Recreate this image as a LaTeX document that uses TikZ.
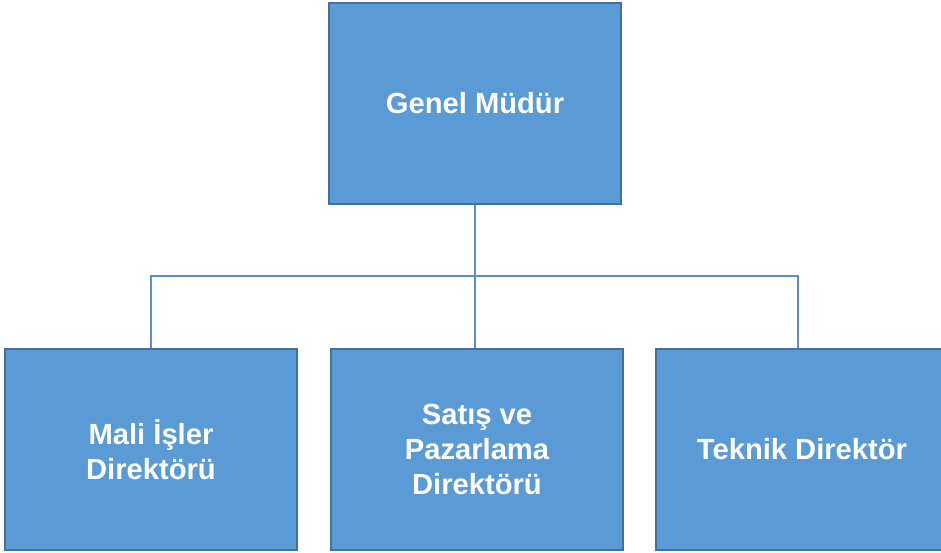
\documentclass[tikz,border=0pt]{standalone}
\usepackage{fontspec}
\setmainfont{Liberation Sans}
\usepackage[HTML]{xcolor}
\usetikzlibrary{positioning}
\definecolor{boxfill}{HTML}{5B9BD5}
\definecolor{boxedge}{HTML}{41719C}
\definecolor{linkcol}{HTML}{5B8FC9}
\tikzset{
unitbox/.style={draw=boxedge,line width=1.3pt,fill=boxfill,minimum width=5.84cm,minimum height=4.02cm,
  inner sep=0pt,align=center,text=white,font=\bfseries\fontsize{16.6}{19.9}\selectfont},
link/.style={draw=linkcol,line width=0.8pt}
}
\begin{document}
\begin{tikzpicture}[x=0.02cm,y=-0.02cm]
\useasboundingbox (0,0) rectangle (941,552);
\node[unitbox] (gm) at (475,103.5) {Genel Müdür};
\node[unitbox] (mali) at (151,449.5) {Mali İşler\\Direktörü};
\node[unitbox] (satis) at (477,449.5) {Satış ve\\Pazarlama\\Direktörü};
\node[unitbox] (teknik) at (802,449.5) {Teknik Direktör};
\coordinate (bus) at (475,276);
\draw[link] (gm.south) -- (gm.south |- satis.north);
\draw[link] (mali.north) |- ([xshift=-0.08cm]teknik.north |- bus) -- ([xshift=-0.08cm]teknik.north);
\end{tikzpicture}
\end{document}
